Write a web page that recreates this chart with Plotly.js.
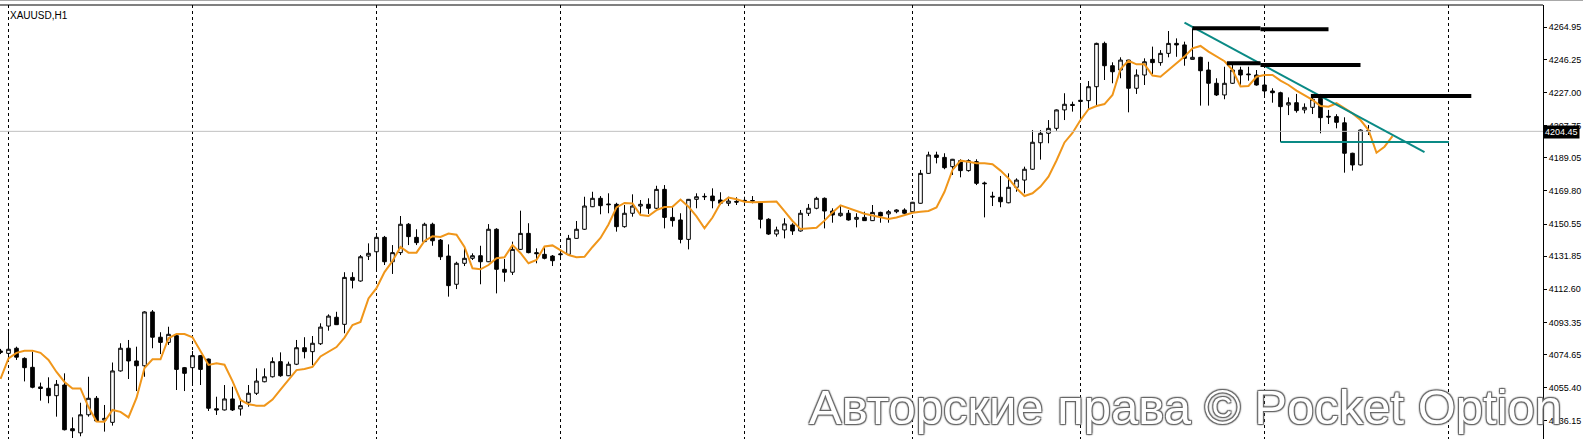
<!DOCTYPE html>
<html>
<head>
<meta charset="utf-8">
<script src="https://cdn.plot.ly/plotly-3.0.1.min.js"></script>
<style>html,body{margin:0;padding:0;background:#fff;}#chart{width:1583px;height:439px;}</style>
</head>
<body>
<div id="chart"></div>
<script>
// ---- data ----
const symbol = "XAUUSD,H1";
const firstBar = -1;
const open = [
4076.7,4075.3,4078.3,4072.4,4067.2,4055.8,4055.0,4050.7,4056.9,4031.5,
4029.1,4039.6,4049.2,4036.5,4035.2,4065.1,4078.3,4070.9,4068.1,4099.4,
4084.7,4081.7,4085.6,4067.0,4067.0,4074.0,4072.0,4043.1,4042.4,4048.8,
4043.0,4046.9,4052.1,4058.8,4061.7,4070.5,4062.3,4069.0,4078.6,4076.3,
4080.9,4091.2,4096.3,4092.2,4119.5,4117.4,4131.9,4134.4,4142.8,4128.6,
4133.9,4150.4,4142.8,4140.3,4150.4,4141.2,4131.9,4115.5,4127.7,4130.6,
4132.1,4128.6,4147.5,4124.2,4122.5,4135.8,4145.1,4133.9,4132.9,4131.9,
4132.7,4132.9,4142.2,4147.5,4160.6,4165.5,4162.2,4162.0,4149.0,4156.8,
4161.0,4162.0,4159.7,4170.7,4154.4,4152.9,4141.6,4164.9,4166.3,4166.8,
4164.5,4162.6,4163.7,4164.3,4164.2,4162.9,4153.3,4144.7,4147.1,4150.0,
4146.5,4156.8,4159.7,4165.5,4158.1,4155.4,4156.8,4153.3,4154.4,4152.5,
4157.3,4156.4,4157.7,4158.7,4157.7,4162.6,4180.0,4190.7,4189.3,4183.9,
4187.4,4181.6,4186.8,4174.4,4166.7,4166.1,4162.9,4171.9,4176.1,4182.4,
4197.8,4203.3,4206.2,4216.9,4220.1,4222.5,4222.3,4230.4,4255.6,4242.6,
4240.1,4245.9,4229.5,4237.2,4246.3,4244.4,4249.8,4255.6,4254.7,4246.3,
4247.5,4240.1,4232.4,4225.6,4232.4,4240.1,4237.8,4237.2,4231.4,4227.9,
4226.9,4219.8,4221.1,4216.9,4218.4,4223.7,4213.2,4213.0,4209.4,4191.7,
4184.9,4204.9];
const high = [
4077.9,4088.9,4079.2,4073.0,4076.3,4058.3,4061.4,4059.8,4063.7,4038.1,
4046.6,4061.7,4050.5,4045.3,4070.0,4081.2,4083.1,4079.2,4099.8,4100.5,
4087.6,4090.8,4086.0,4067.4,4076.7,4074.4,4072.3,4050.1,4056.9,4055.9,
4049.2,4056.9,4066.6,4066.6,4073.0,4075.9,4070.5,4083.1,4084.7,4085.4,
4092.8,4098.0,4099.5,4122.5,4122.5,4132.5,4139.3,4145.1,4143.6,4138.3,
4155.2,4151.1,4147.5,4151.3,4151.3,4141.8,4138.7,4128.6,4137.4,4133.5,
4137.9,4150.5,4148.1,4130.2,4140.3,4158.3,4151.0,4136.4,4137.0,4132.5,
4135.4,4144.2,4152.3,4166.4,4169.3,4166.8,4168.4,4162.9,4161.6,4167.8,
4164.5,4165.5,4172.8,4173.2,4160.6,4156.8,4165.1,4168.4,4168.4,4171.3,
4169.0,4166.4,4166.1,4166.4,4166.8,4163.5,4153.9,4149.0,4153.9,4151.0,
4158.7,4162.2,4166.4,4166.0,4159.7,4161.0,4158.7,4156.8,4157.7,4161.6,
4157.7,4158.7,4159.1,4159.7,4163.4,4182.0,4192.6,4192.6,4191.7,4188.4,
4188.2,4188.2,4188.2,4175.2,4169.3,4178.5,4180.0,4177.1,4183.9,4205.2,
4205.2,4211.0,4217.2,4226.6,4221.7,4231.4,4233.7,4256.0,4256.6,4244.6,
4247.5,4246.1,4240.5,4246.9,4253.7,4251.7,4262.8,4258.5,4256.6,4264.4,
4247.8,4244.9,4235.3,4242.0,4244.0,4242.0,4242.0,4240.1,4237.2,4229.5,
4227.5,4224.2,4226.2,4220.7,4226.2,4226.2,4216.9,4214.4,4212.6,4192.0,
4205.6,4208.1];
const low = [
4074.9,4072.4,4071.5,4059.0,4055.0,4047.8,4046.3,4038.5,4030.5,4026.1,
4027.1,4038.5,4036.0,4029.8,4033.3,4064.7,4060.4,4053.4,4061.7,4078.3,
4074.9,4080.2,4054.0,4053.4,4056.9,4056.9,4041.8,4039.5,4042.1,4041.8,
4039.1,4044.3,4051.1,4058.5,4061.3,4061.7,4062.1,4068.5,4072.4,4068.5,
4080.2,4088.5,4091.8,4087.0,4113.1,4117.0,4129.6,4122.8,4126.7,4121.5,
4132.5,4138.3,4138.3,4140.1,4137.9,4129.6,4108.3,4112.7,4126.1,4129.6,
4115.5,4128.4,4110.2,4117.0,4120.9,4135.4,4133.5,4127.7,4130.0,4126.1,
4131.4,4132.7,4142.0,4147.1,4160.4,4156.2,4156.8,4146.1,4148.4,4154.8,
4155.8,4156.4,4159.3,4148.0,4149.0,4139.3,4135.8,4159.7,4164.5,4159.7,
4161.6,4161.0,4161.6,4162.9,4162.6,4148.0,4144.2,4143.2,4142.2,4144.2,
4146.1,4155.2,4159.1,4148.0,4151.3,4154.8,4152.5,4148.6,4152.3,4152.3,
4151.3,4151.3,4156.8,4156.4,4157.1,4162.4,4179.8,4185.8,4182.4,4179.1,
4177.7,4181.0,4173.2,4154.4,4161.0,4160.3,4162.6,4169.3,4168.4,4182.0,
4188.0,4197.5,4204.8,4211.0,4215.9,4211.0,4217.3,4219.8,4234.3,4232.4,
4235.3,4215.5,4226.2,4231.4,4237.8,4242.6,4247.5,4247.8,4242.6,4246.2,
4219.4,4219.4,4225.0,4223.1,4232.0,4231.4,4233.9,4231.0,4224.6,4221.1,
4198.3,4213.9,4215.3,4214.9,4214.5,4203.3,4208.7,4206.2,4180.4,4181.6,
4184.6,4202.3];
const close = [
4075.9,4077.7,4073.1,4067.0,4055.6,4054.9,4050.7,4057.3,4030.9,4030.3,
4039.6,4049.2,4036.0,4037.5,4065.1,4078.3,4070.9,4068.1,4099.4,4084.7,
4081.7,4086.4,4066.0,4063.7,4074.0,4066.0,4043.4,4042.4,4048.8,4042.4,
4044.9,4052.1,4059.2,4061.7,4070.5,4062.3,4069.0,4078.6,4076.3,4081.2,
4090.6,4097.0,4092.0,4119.5,4117.8,4131.5,4133.5,4142.8,4128.6,4133.9,
4150.4,4143.2,4139.7,4150.4,4140.8,4131.5,4114.7,4127.7,4130.6,4132.1,
4128.6,4147.5,4124.2,4122.5,4135.8,4145.1,4133.9,4133.3,4130.6,4129.2,
4133.1,4142.2,4147.5,4161.0,4165.5,4161.2,4161.8,4149.0,4156.8,4161.0,
4162.0,4159.7,4170.7,4154.4,4152.5,4141.6,4164.9,4166.4,4166.6,4164.1,
4162.6,4163.9,4163.3,4163.9,4163.9,4153.3,4144.7,4147.1,4150.6,4146.5,
4156.8,4159.7,4165.5,4158.1,4155.8,4156.8,4152.9,4154.4,4152.5,4157.3,
4155.2,4157.7,4158.7,4156.8,4163.2,4180.0,4190.7,4189.3,4183.3,4188.2,
4181.6,4187.4,4174.2,4174.0,4166.3,4163.5,4171.9,4176.1,4182.4,4198.1,
4203.3,4206.2,4216.9,4220.2,4219.5,4221.9,4230.4,4255.6,4242.6,4239.1,
4245.9,4229.5,4237.2,4244.9,4244.4,4249.8,4255.6,4254.7,4246.9,4247.5,
4239.7,4232.4,4225.6,4232.4,4240.1,4237.2,4237.4,4231.4,4227.9,4226.9,
4218.8,4221.1,4216.5,4218.4,4223.1,4212.4,4212.8,4209.7,4191.7,4184.9,
4205.2,4204.45];
// orange moving-average line, one value per bar (extends 3 bars past the last candle)
const maValues = [
4060.4,4072.4,4075.6,4076.8,4076.9,4075.6,4071.5,4064.5,4058.7,4054.9,
4054.9,4044.1,4035.7,4035.6,4042.4,4041.3,4038.1,4049.4,4066.8,4071.9,
4071.9,4084.1,4086.6,4086.6,4084.7,4077.0,4068.6,4069.5,4068.7,4059.2,
4048.2,4045.7,4044.9,4044.9,4048.4,4054.2,4059.8,4065.6,4066.2,4067.4,
4073.5,4076.3,4079.0,4084.5,4091.8,4093.6,4107.3,4113.2,4122.6,4129.0,
4137.2,4133.9,4133.9,4140.7,4143.4,4143.0,4145.0,4144.3,4137.2,4124.8,
4124.2,4126.7,4130.6,4131.2,4138.3,4133.7,4127.7,4129.6,4137.5,4138.1,
4135.4,4132.5,4131.2,4131.5,4137.2,4142.4,4150.3,4160.2,4162.8,4162.5,
4155.8,4155.2,4158.6,4160.4,4160.6,4164.8,4160.6,4155.0,4148.1,4154.3,
4162.6,4165.9,4164.9,4163.5,4163.2,4163.4,4163.6,4163.6,4158.1,4152.3,
4147.6,4147.9,4148.4,4152.5,4157.3,4161.4,4159.7,4157.8,4156.5,4155.5,
4154.5,4153.5,4154.3,4155.6,4157.1,4157.7,4158.1,4160.2,4169.3,4182.0,
4187.4,4186.8,4185.9,4185.9,4185.3,4181.6,4177.1,4171.3,4166.8,4168.4,
4172.3,4178.1,4187.5,4198.0,4203.5,4211.0,4217.3,4219.2,4220.3,4225.6,
4240.7,4245.5,4243.4,4243.4,4236.9,4236.2,4240.1,4243.9,4247.9,4252.7,
4254.1,4250.8,4248.0,4245.2,4240.1,4230.5,4230.8,4236.2,4237.2,4237.2,
4233.9,4231.4,4228.1,4225.6,4222.7,4219.2,4218.8,4220.8,4217.8,4214.9,
4211.0,4205.2,4192.0,4195.5,4201.7];
// right price scale
const priceTicks = [4264.95,4246.25,4227.00,4207.75,4189.05,4169.80,4150.55,4131.85,4112.60,4093.35,4074.65,4055.40,4036.15];
const priceTickText = ["4264.95","4246.25","4227.00","4207.75","4189.05","4169.80","4150.55","4131.85","4112.60","4093.35","4074.65","4055.40","4036.15"];
const bidPrice = 4204.45;
// day separators (bar index)
const daySeparators = [0,23,46,69,92,113,134,157,180];
// drawn objects (bar index, price)
const trendLine = {x0:147.0, y0:4267.6, x1:177.0, y1:4192.4};
const supportLine = {x0:159.0, x1:180.05, y:4198.2};
const resistanceLines = [
  {x0:148.0, x1:156.5, y:4264.4},
  {x0:156.5, x1:165.0, y:4263.8},
  {x0:152.3, x1:156.5, y:4244.0},
  {x0:156.5, x1:169.0, y:4243.0},
  {x0:162.8, x1:182.85, y:4225.0}
];
const watermark = "Авторские права © Pocket Option";

// ---- drawing ----
const barX = open.map((_, i) => i + firstBar);
const maX = maValues.map((_, i) => i + firstBar);

const W = 1583, H = 439, mL = 0, mR = 40, mT = 5, mB = 0;
const plotW = W - mL - mR, plotH = H - mT - mB;
const xStart = -1.0625;
const xRange = [xStart, xStart + plotW / 8];
const yRange = [4025.51, 4277.92];

const traces = [
  {
    type: 'candlestick', x: barX, open: open, high: high, low: low, close: close,
    increasing: {line: {color: '#000000', width: 1}, fillcolor: '#ffffff'},
    decreasing: {line: {color: '#000000', width: 1}, fillcolor: '#000000'},
    whiskerwidth: 0, hoverinfo: 'skip', showlegend: false
  },
  {
    type: 'scatter', mode: 'lines', x: maX, y: maValues,
    line: {color: '#f0961a', width: 2}, hoverinfo: 'skip', showlegend: false
  }
];

const shapes = [];
// window top edge
shapes.push({type:'line', xref:'paper', yref:'paper', x0:0, x1:W/plotW, y0:1+4.5/plotH, y1:1+4.5/plotH, line:{color:'#a8a8a8', width:1}});
shapes.push({type:'line', xref:'paper', yref:'paper', x0:0, x1:1, y0:1, y1:1, line:{color:'#000000', width:1}});
// bid line
shapes.push({type:'line', xref:'paper', yref:'y', x0:0, x1:1, y0:bidPrice, y1:bidPrice, line:{color:'#c0c0c0', width:1}});
// teal objects
shapes.push({type:'line', xref:'x', yref:'y', x0:trendLine.x0, y0:trendLine.y0, x1:trendLine.x1, y1:trendLine.y1, line:{color:'#0a8a85', width:2}});
shapes.push({type:'line', xref:'x', yref:'y', x0:supportLine.x0, y0:supportLine.y, x1:supportLine.x1, y1:supportLine.y, line:{color:'#0a8a85', width:2}});
// thick black levels
resistanceLines.forEach(r => shapes.push({type:'line', xref:'x', yref:'y', x0:r.x0, y0:r.y, x1:r.x1, y1:r.y, line:{color:'#000000', width:4}}));

const annotations = [
  {xref:'paper', yref:'paper', x:8/plotW, y:1-10/plotH, xanchor:'left', yanchor:'middle', showarrow:false,
   text:symbol, font:{family:'Liberation Sans Narrow, Liberation Sans, Arial, sans-serif', size:10, color:'#000'}},
  {xref:'paper', yref:'y', x:1, y:bidPrice, xanchor:'left', yanchor:'middle', showarrow:false, yshift:-1,
   text:bidPrice.toFixed(2), bgcolor:'#000000', borderpad:1,
   font:{family:'Liberation Sans, Arial, sans-serif', size:9, color:'#ffffff'}},
  {xref:'paper', yref:'paper', x:1185/plotW, y:(H-407)/plotH, xanchor:'center', yanchor:'middle', showarrow:false,
   text:watermark,
   font:{family:'Liberation Sans, Arial, sans-serif', size:49, color:'#ffffff',
         shadow:'-1px -1px 1px #666666, 1px -1px 1px #666666, -1px 1px 1px #666666, 1px 1px 1px #666666, 0 0 3px #999999'}}
];

const layout = {
  width: W, height: H,
  margin: {l: mL, r: mR, t: mT, b: mB, pad: 0},
  paper_bgcolor: '#ffffff', plot_bgcolor: '#ffffff',
  showlegend: false, hovermode: false, dragmode: false,
  boxgap: 0.3, boxgroupgap: 0.35,
  xaxis: {
    range: xRange, rangeslider: {visible: false},
    tickvals: daySeparators, showticklabels: false, ticks: '',
    showgrid: true, gridcolor: '#000000', gridwidth: 1, griddash: '3px,3px',
    zeroline: false, showline: false, fixedrange: true
  },
  yaxis: {
    range: yRange, side: 'right',
    tickvals: priceTicks, ticktext: priceTickText,
    ticks: 'outside', ticklen: 3, tickwidth: 1, tickcolor: '#000000',
    showline: true, linecolor: '#000000', linewidth: 1,
    showgrid: false, zeroline: false, fixedrange: true, automargin: false,
    tickfont: {family: 'Liberation Sans, Arial, sans-serif', size: 9, color: '#000000'}
  },
  shapes: shapes,
  annotations: annotations
};

Plotly.newPlot('chart', traces, layout, {staticPlot: true, displayModeBar: false});
</script>
</body>
</html>
